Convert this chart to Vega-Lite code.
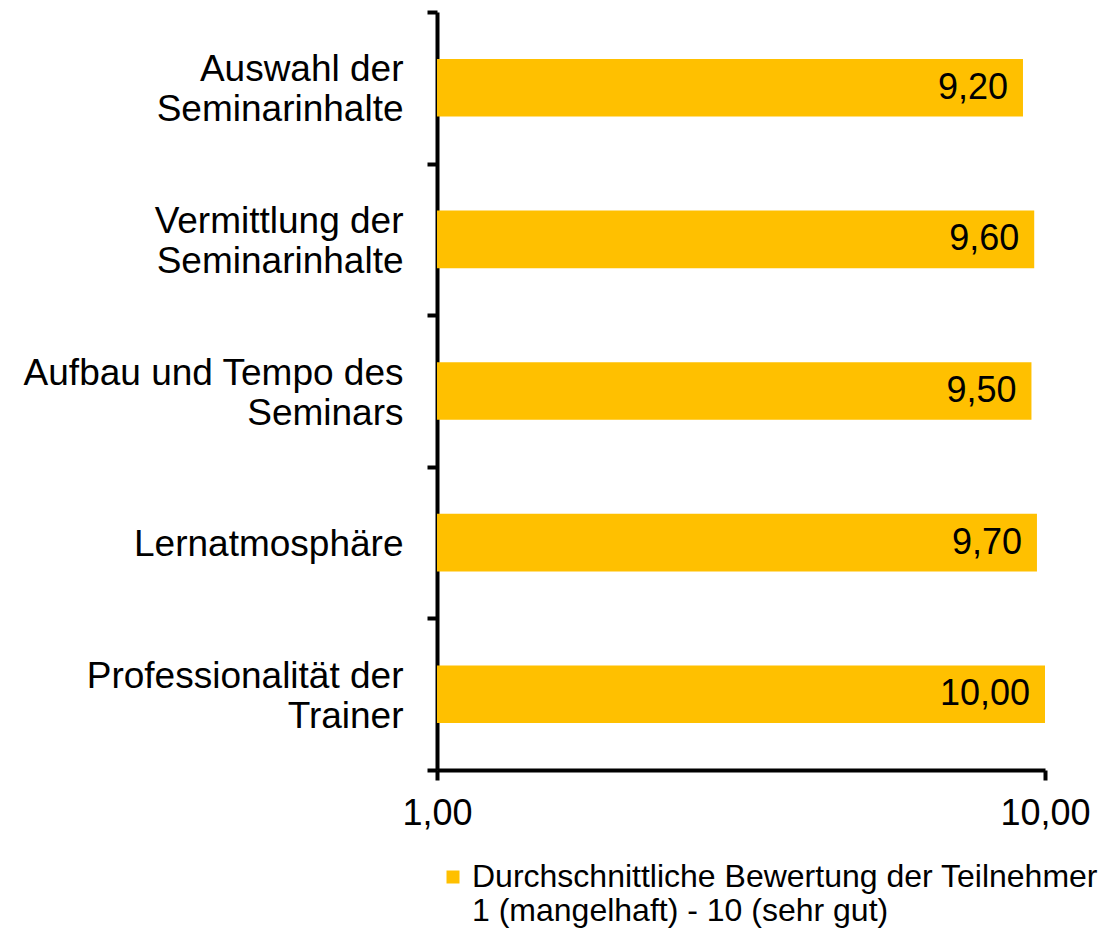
{
  "$schema": "https://vega.github.io/schema/vega-lite/v6.json",
  "autosize": "none",
  "width": 608,
  "height": 758,
  "padding": {"left": 437, "top": 12, "right": 57, "bottom": 160},
  "background": "white",
  "config": {
    "view": {"stroke": null},
    "font": "Liberation Sans",
    "locale": {"number": {"decimal": ",", "thousands": ".", "grouping": [3], "currency": ["", " €"]}}
  },
  "data": {
    "values": [
      {"Kategorie": "Auswahl der|Seminarinhalte", "Wert": 9.2, "Reihe": "Durchschnittliche Bewertung der Teilnehmer"},
      {"Kategorie": "Vermittlung der|Seminarinhalte", "Wert": 9.6, "Reihe": "Durchschnittliche Bewertung der Teilnehmer"},
      {"Kategorie": "Aufbau und Tempo des|Seminars", "Wert": 9.5, "Reihe": "Durchschnittliche Bewertung der Teilnehmer"},
      {"Kategorie": "Lernatmosphäre", "Wert": 9.7, "Reihe": "Durchschnittliche Bewertung der Teilnehmer"},
      {"Kategorie": "Professionalität der|Trainer", "Wert": 10.0, "Reihe": "Durchschnittliche Bewertung der Teilnehmer"}
    ]
  },
  "encoding": {
    "y": {
      "field": "Kategorie",
      "type": "nominal",
      "sort": null,
      "scale": {"paddingInner": 0, "paddingOuter": 0},
      "axis": {
        "title": null,
        "domainColor": "black",
        "domainWidth": 4,
        "tickColor": "black",
        "tickWidth": 4,
        "tickSize": 10,
        "tickBand": "extent",
        "labelFontSize": 37,
        "labelColor": "black",
        "labelAlign": "right",
        "labelBaseline": "middle",
        "labelLineHeight": 20,
        "labelOffset": -18,
        "labelLimit": 0,
        "labelPadding": 24,
        "labelExpr": "length(split(datum.label, '|')) > 1 ? [split(datum.label, '|')[0], '\u200b', split(datum.label, '|')[1]] : ['', datum.label]"
      }
    },
    "x": {
      "field": "Wert",
      "type": "quantitative",
      "scale": {"type": "log", "domain": [1, 10], "nice": false},
      "axis": {
        "title": null,
        "values": [1, 10],
        "format": ".2f",
        "grid": false,
        "domainColor": "black",
        "domainWidth": 4,
        "tickColor": "black",
        "tickWidth": 4,
        "tickSize": 10,
        "labelFontSize": 36,
        "labelColor": "black",
        "labelPadding": 16,
        "labelFlush": false
      }
    }
  },
  "layer": [
    {
      "mark": {"type": "bar", "color": "#FFC000", "height": {"band": 0.38}},
      "encoding": {
        "x2": {"datum": 1},
        "color": {
          "field": "Reihe",
          "type": "nominal",
          "scale": {"range": ["#FFC000"]},
          "legend": {
            "title": null,
            "orient": "bottom",
            "offset": 30,
            "symbolType": "square",
            "symbolSize": 169,
            "symbolStrokeWidth": 0,
            "labelFontSize": 32,
            "labelColor": "black",
            "labelLimit": 800,
            "labelOffset": 3,
            "labelLineHeight": 34,
            "labelExpr": "[datum.label, '1 (mangelhaft) - 10 (sehr gut)']"
          }
        }
      }
    },
    {
      "mark": {"type": "text", "align": "right", "baseline": "middle", "dx": -15, "fontSize": 36, "color": "black"},
      "encoding": {
        "text": {"field": "Wert", "type": "quantitative", "format": ".2f"}
      }
    }
  ]
}
